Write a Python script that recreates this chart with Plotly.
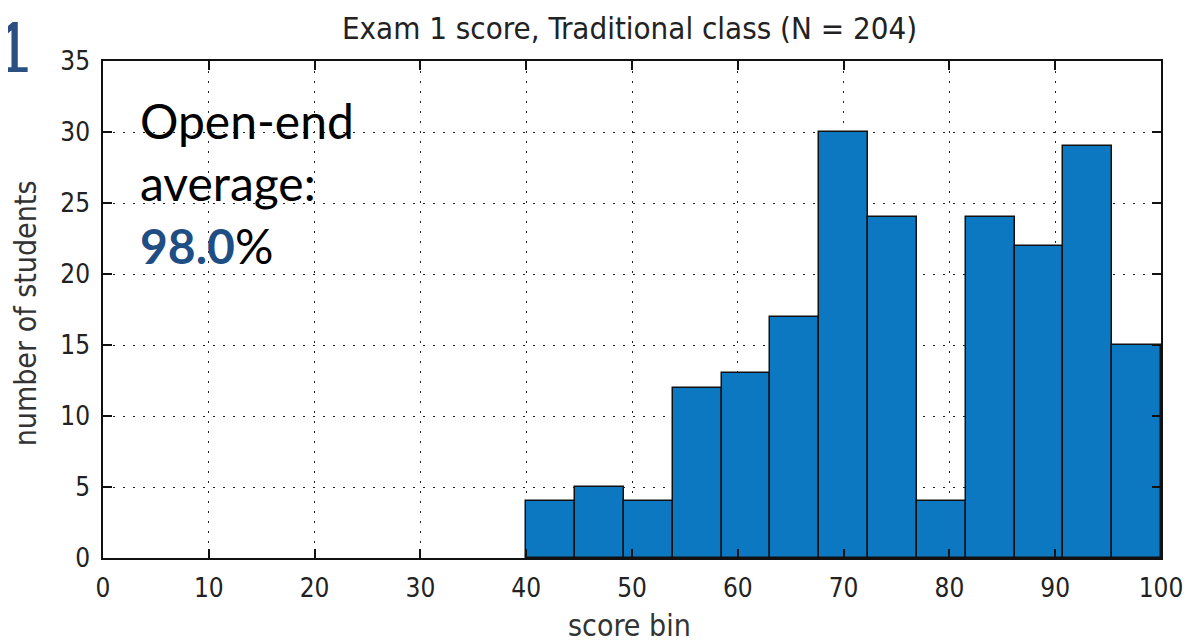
import plotly.graph_objects as go

# Data
counts = [4, 5, 4, 12, 13, 17, 30, 24, 4, 24, 22, 29, 15]
bin_lo = 40
bin_hi = 100
x_ticks = [0, 10, 20, 30, 40, 50, 60, 70, 80, 90, 100]
y_ticks = [0, 5, 10, 15, 20, 25, 30, 35]
title_text = "Exam 1 score, Traditional class (N = 204)"
x_title = "score bin"
y_title = "number of students"

nb = len(counts)
w = (bin_hi - bin_lo) / nb
centers = [bin_lo + w * (i + 0.5) for i in range(nb)]

W, H = 1187, 634
ml, mr, mt, mb = 95, 30, 53, 84
pw, ph = W - ml - mr, H - mt - mb

def px(xp):
    return (xp - ml) / pw

def py(yp):
    return 1 - (yp - mt) / ph

FAM = "DejaVu Sans Condensed, DejaVu Sans, sans-serif"
tick_font = dict(family=FAM, size=26, color="#222")

fig = go.Figure()
fig.add_trace(go.Bar(
    x=centers, y=counts, width=w,
    marker=dict(color="#0B78C1", line=dict(color="#111", width=1.5)),
    hoverinfo="x+y",
))

axis_common = dict(
    showline=True, linecolor="#111", linewidth=1.5, mirror="ticks",
    ticks="inside", ticklen=9, tickwidth=1.5, tickcolor="#111",
    showgrid=True, gridcolor="#222", gridwidth=1.4, griddash="2px,8px",
    zeroline=False, tickfont=tick_font, ticklabelstandoff=6,
)

fig.update_layout(
    width=W, height=H,
    margin=dict(l=ml, r=mr, t=mt, b=mb),
    paper_bgcolor="white", plot_bgcolor="white",
    showlegend=False,
    bargap=0,
    xaxis=dict(range=[0, 100], tickvals=x_ticks, ticktext=[str(v) for v in x_ticks], **axis_common),
    yaxis=dict(range=[0, 35], tickvals=y_ticks, ticktext=[str(v) for v in y_ticks], **axis_common),
    annotations=[
        dict(text=title_text, xref="paper", yref="paper", x=px(623), y=py(20),
             xanchor="center", yanchor="middle", showarrow=False,
             font=dict(family=FAM, size=31, color="#222")),
        dict(text=x_title, xref="paper", yref="paper", x=px(623), y=py(617),
             xanchor="center", yanchor="middle", showarrow=False,
             font=dict(family=FAM, size=30, color="#333")),
        dict(text=y_title, xref="paper", yref="paper", x=px(17), y=py(305),
             xanchor="center", yanchor="middle", showarrow=False, textangle=-90,
             font=dict(family=FAM, size=30, color="#333")),
        dict(text="Open-end<br>average:<br><b><span style='color:#1F4E85'>98.0</span></b>%",
             xref="paper", yref="paper", x=px(130), y=py(82),
             xanchor="left", yanchor="top", align="left", showarrow=False,
             font=dict(family="Lato, Noto Sans, sans-serif", size=48, color="#000")),
        dict(text="1", xref="paper", yref="paper", x=px(-18), y=py(-7),
             xanchor="left", yanchor="top", showarrow=False,
             font=dict(family="Lato, Noto Sans, sans-serif", size=70, color="#2A4F80")),
    ],
)

fig.write_html("out.html")
